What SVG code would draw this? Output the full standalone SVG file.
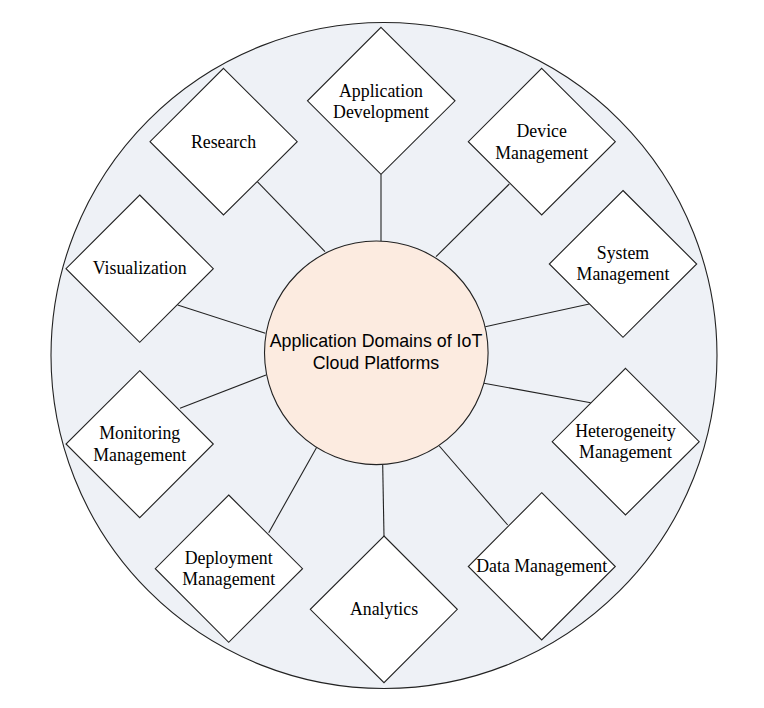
<svg xmlns="http://www.w3.org/2000/svg" width="764" height="708" viewBox="0 0 764 708">
<defs>
<style>
.dm{fill:#ffffff;stroke:#222;stroke-width:1.1}
.t{font-family:"Liberation Serif","Times New Roman",serif;font-size:17.8px;fill:#000;text-anchor:middle}
.c{font-family:"Liberation Sans",Arial,sans-serif;font-size:17.8px;fill:#000;text-anchor:middle}
.ln{stroke:#222;stroke-width:1.1;fill:none}
</style>
</defs>
<rect width="764" height="708" fill="#ffffff"/>
<g id="outer">
<circle cx="384" cy="355.5" r="333" fill="#eef1f6" stroke="#222" stroke-width="1.1"/>
</g>
<g id="connectors">
<line class="ln" x1="257.3" y1="181.7" x2="325" y2="251.7"/>
<line class="ln" x1="381" y1="174.3" x2="381" y2="241"/>
<line class="ln" x1="509.3" y1="184" x2="436" y2="256.7"/>
<line class="ln" x1="589.3" y1="304" x2="485.3" y2="326.7"/>
<line class="ln" x1="177.7" y1="305" x2="265.3" y2="333.3"/>
<line class="ln" x1="180" y1="408.3" x2="266" y2="375"/>
<line class="ln" x1="484" y1="383.3" x2="590.7" y2="402.7"/>
<line class="ln" x1="316.7" y1="447.3" x2="268.7" y2="532.7"/>
<line class="ln" x1="382.7" y1="465" x2="384" y2="536"/>
<line class="ln" x1="439.3" y1="446" x2="507.7" y2="525"/>
</g>
<g id="center">
<circle cx="376.3" cy="352.8" r="111.8" fill="#fcebe0" stroke="#222" stroke-width="1.1"/>
<text class="c" x="376" y="346.5">Application Domains of IoT</text>
<text class="c" x="376" y="368.5">Cloud Platforms</text>
</g>
<g id="research">
<polygon class="dm" points="223.5,68.3 297.2,141.7 223.5,215 150,141.7"/>
<text class="t" x="223.5" y="147.5">Research</text>
</g>
<g id="app-dev">
<polygon class="dm" points="381,27.3 455,100.8 381,174.3 307.5,100.8"/>
<text class="t" x="381" y="96.8">Application</text>
<text class="t" x="381" y="117.5">Development</text>
</g>
<g id="device-mgmt">
<polygon class="dm" points="541.7,68.3 615.3,141.7 541.7,215 468.3,141.7"/>
<text class="t" x="541.7" y="136.5">Device</text>
<text class="t" x="541.7" y="158.5">Management</text>
</g>
<g id="system-mgmt">
<polygon class="dm" points="623,190.5 696.7,264 623,337.3 549.3,264"/>
<text class="t" x="623" y="259">System</text>
<text class="t" x="623" y="280">Management</text>
</g>
<g id="visualization">
<polygon class="dm" points="139.7,195 213.3,268.7 139.7,342.3 66,268.7"/>
<text class="t" x="139.7" y="274">Visualization</text>
</g>
<g id="monitoring-mgmt">
<polygon class="dm" points="139.7,370.7 213.3,444 139.7,517.7 66,444"/>
<text class="t" x="139.7" y="439">Monitoring</text>
<text class="t" x="139.7" y="460.5">Management</text>
</g>
<g id="heterogeneity-mgmt">
<polygon class="dm" points="625.5,368.3 699.2,441.7 625.5,515 552.2,441.7"/>
<text class="t" x="625.5" y="436.8">Heterogeneity</text>
<text class="t" x="625.5" y="457.5">Management</text>
</g>
<g id="deployment-mgmt">
<polygon class="dm" points="228.7,495 302.5,568.7 228.7,642.3 155.3,568.7"/>
<text class="t" x="228.7" y="564">Deployment</text>
<text class="t" x="228.7" y="584.8">Management</text>
</g>
<g id="analytics">
<polygon class="dm" points="384,536 457.3,609.3 384,682.7 310.3,609.3"/>
<text class="t" x="384" y="615">Analytics</text>
</g>
<g id="data-mgmt">
<polygon class="dm" points="541.7,492.7 615.3,566.5 541.7,640 468.3,566.5"/>
<text class="t" x="541.7" y="572.3">Data Management</text>
</g>
</svg>
